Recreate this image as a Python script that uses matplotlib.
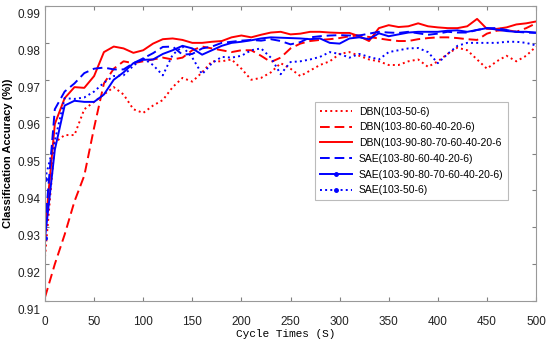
import numpy as np
import matplotlib
matplotlib.use("Agg")
import matplotlib.pyplot as plt
from matplotlib.transforms import ScaledTranslation


# ---------------------------
# Data
# ---------------------------
cycles = list(range(0, 501, 10))

dbn_50 = [0.922, 0.953, 0.955, 0.955, 0.962, 0.964, 0.966, 0.968, 0.966, 0.962,
          0.961, 0.963, 0.9645, 0.968, 0.9705, 0.9695, 0.972, 0.975, 0.975, 0.9755,
          0.973, 0.970, 0.9705, 0.972, 0.9745, 0.973, 0.971, 0.9725, 0.974, 0.975,
          0.977, 0.9775, 0.9765, 0.9755, 0.975, 0.974, 0.974, 0.975, 0.9755, 0.9735,
          0.975, 0.977, 0.9787, 0.978, 0.9755, 0.973, 0.975, 0.9765, 0.975, 0.9765,
          0.979]

dbn_80 = [0.911, 0.920, 0.928, 0.937, 0.944, 0.957, 0.969, 0.973, 0.975, 0.9745,
          0.975, 0.9755, 0.976, 0.9755, 0.976, 0.978, 0.979, 0.9785, 0.978, 0.9775,
          0.978, 0.978, 0.9765, 0.9748, 0.976, 0.9785, 0.9798, 0.9805, 0.9808, 0.981,
          0.9813, 0.9818, 0.982, 0.9816, 0.9812, 0.9808, 0.9805, 0.9805, 0.981, 0.9813,
          0.9815, 0.9815, 0.9813, 0.981, 0.9808, 0.9825, 0.9833, 0.9835, 0.983, 0.984,
          0.9853]

dbn_90 = [0.929, 0.958, 0.965, 0.968, 0.9678, 0.971, 0.9775, 0.979, 0.9785, 0.9773,
          0.978, 0.9798, 0.981, 0.9812, 0.9808, 0.980, 0.980, 0.9803, 0.9805, 0.9815,
          0.982, 0.9815, 0.9822, 0.9828, 0.983, 0.9823, 0.9825, 0.983, 0.983, 0.9828,
          0.9827, 0.9827, 0.9818, 0.9805, 0.984, 0.9848, 0.9843, 0.9845, 0.9853, 0.9845,
          0.9842, 0.984, 0.984, 0.9845, 0.9865, 0.9838, 0.9838, 0.9842, 0.985, 0.9853,
          0.9858]

sae_80 = [0.930, 0.962, 0.9668, 0.969, 0.9718, 0.973, 0.9733, 0.9728, 0.9728, 0.9745,
          0.9758, 0.9772, 0.9789, 0.979, 0.9768, 0.977, 0.9785, 0.979, 0.980, 0.9803,
          0.9806, 0.9808, 0.9806, 0.981, 0.9805, 0.9796, 0.9802, 0.9815, 0.9818, 0.982,
          0.9821, 0.982, 0.982, 0.9825, 0.983, 0.9828, 0.9827, 0.983, 0.9826, 0.9822,
          0.9825, 0.983, 0.9828, 0.9828, 0.9835, 0.984, 0.984, 0.9835, 0.983, 0.9828,
          0.9827]

sae_90 = [0.927, 0.951, 0.963, 0.9643, 0.964, 0.964, 0.966, 0.970, 0.972, 0.9745,
          0.9754, 0.9755, 0.977, 0.978, 0.9792, 0.9785, 0.9768, 0.978, 0.9792, 0.980,
          0.9803, 0.9807, 0.9812, 0.9815, 0.9814, 0.9813, 0.9812, 0.981, 0.9812, 0.980,
          0.9798, 0.9812, 0.9815, 0.981, 0.9826, 0.9818, 0.9823, 0.9828, 0.983, 0.983,
          0.983, 0.9833, 0.9834, 0.983, 0.9835, 0.984, 0.9836, 0.9832, 0.983, 0.983,
          0.9828]

sae_50 = [0.943, 0.9535, 0.965, 0.9648, 0.9652, 0.9668, 0.9692, 0.971, 0.9712, 0.9738,
          0.9758, 0.974, 0.9712, 0.9768, 0.979, 0.976, 0.9715, 0.9745, 0.9762, 0.976,
          0.9765, 0.978, 0.9785, 0.976, 0.9715, 0.9748, 0.975, 0.9755, 0.9762, 0.9775,
          0.977, 0.976, 0.977, 0.9762, 0.9755, 0.9775, 0.978, 0.9785, 0.9786, 0.9775,
          0.9745, 0.977, 0.9792, 0.980, 0.980, 0.980, 0.980, 0.9803, 0.9803, 0.980,
          0.9793]

labels = [
    "DBN(103-50-6)",
    "DBN(103-80-60-40-20-6)",
    "DBN(103-90-80-70-60-40-20-6",
    "SAE(103-80-60-40-20-6)",
    "SAE(103-90-80-70-60-40-20-6)",
    "SAE(103-50-6)",
]

x_ticks = list(range(0, 501, 50))
y_ticks = [0.91, 0.92, 0.93, 0.94, 0.95, 0.96, 0.97, 0.98, 0.99]


def main():
    plt.rcParams["font.family"] = ["Liberation Sans", "DejaVu Sans"]

    fig = plt.figure(figsize=(5.5, 3.43), dpi=100)
    ax = fig.add_axes([45 / 550, 1 - 301 / 343, 491 / 550, 295 / 343])

    series = [dbn_50, dbn_80, dbn_90, sae_80, sae_90, sae_50]
    styles = [
        dict(color="#ff0000", ls=":"),
        dict(color="#ff0000", ls=(0, (5, 2.5))),
        dict(color="#ff0000", ls="-"),
        dict(color="#0000ff", ls=(0, (5, 2.5))),
        dict(color="#0000ff", ls="-", marker=".", markersize=5, markevery=[0]),
        dict(color="#0000ff", ls=":", marker=".", markersize=5, markevery=[0]),
    ]

    for y, st, lab in zip(series, styles, labels):
        ax.plot(cycles, y, lw=1.4, label=lab, **st)

    ax.set_xlim(0, 500)
    ax.set_ylim(0.91, 0.99)
    ax.set_xticks(x_ticks)
    ax.set_yticks(y_ticks)
    ax.set_yticklabels([f"{v:.2f}" for v in y_ticks])

    ax.tick_params(direction="in", top=True, right=True, length=3,
                   color="#808080", labelsize=8.5, labelcolor="#222222")
    ax.tick_params(axis="x", pad=11)
    ax.tick_params(axis="y", pad=3)
    for sp in ax.spines.values():
        sp.set_color("#999999")
        sp.set_linewidth(0.8)

    # y tick labels sit a little below their ticks in the original
    off = ScaledTranslation(0, -8 / 100, fig.dpi_scale_trans)
    for t in ax.get_yticklabels():
        t.set_transform(t.get_transform() + off)

    ax.set_xlabel("Cycle Times (S)", family="Liberation Mono", fontsize=8)
    ax.xaxis.set_label_coords(0.49, -0.095)
    ax.set_ylabel("Classification Accuracy (%))", fontweight="bold", fontsize=8)
    ax.yaxis.set_label_coords(-0.066, 0.5)

    leg = ax.legend(loc="upper left", bbox_to_anchor=(270 / 491, 1 - 96 / 295),
                    fontsize=7.5, frameon=True, fancybox=False, handlelength=3.1,
                    handletextpad=0.65, labelspacing=0.55, borderpad=0.45,
                    borderaxespad=0)
    leg.get_frame().set_edgecolor("#aaaaaa")
    leg.get_frame().set_linewidth(0.8)

    fig.savefig("out.png", dpi=100)


if __name__ == "__main__":
    main()
